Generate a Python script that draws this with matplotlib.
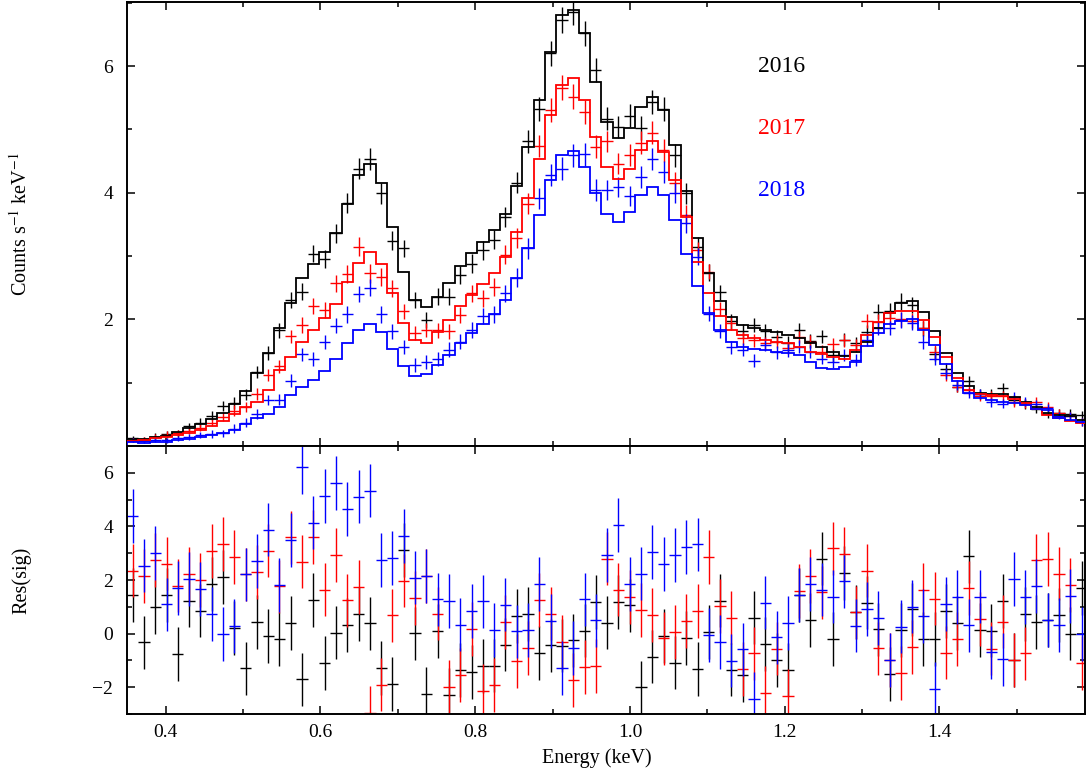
import numpy as np
import matplotlib
matplotlib.use("Agg")
import matplotlib.pyplot as plt
from matplotlib.ticker import MultipleLocator

plt.rcParams['font.family'] = ['Liberation Serif', 'DejaVu Serif']
plt.rcParams['mathtext.fontset'] = 'stix'

# Bin centres (keV); channel half width
energy = [0.3573, 0.3719, 0.3865, 0.4011, 0.4157, 0.4303, 0.4449, 0.4595, 0.4741, 0.4887,
          0.5033, 0.5179, 0.5325, 0.5471, 0.5617, 0.5763, 0.5909, 0.6055, 0.6201, 0.6347,
          0.6493, 0.6639, 0.6785, 0.6931, 0.7077, 0.7223, 0.7369, 0.7515, 0.7661, 0.7807,
          0.7953, 0.8099, 0.8245, 0.8391, 0.8537, 0.8683, 0.8829, 0.8975, 0.9121, 0.9267,
          0.9413, 0.9559, 0.9705, 0.9851, 0.9997, 1.0143, 1.0289, 1.0435, 1.0581, 1.0727,
          1.0873, 1.1019, 1.1165, 1.1311, 1.1457, 1.1603, 1.1749, 1.1895, 1.2041, 1.2187,
          1.2333, 1.2479, 1.2625, 1.2771, 1.2917, 1.3063, 1.3209, 1.3355, 1.3501, 1.3647,
          1.3793, 1.3939, 1.4085, 1.4231, 1.4377, 1.4523, 1.4669, 1.4815, 1.4961, 1.5107,
          1.5253, 1.5399, 1.5545, 1.5691, 1.5837]
half_width = 0.0073

model_2016 = [0.10, 0.11, 0.14, 0.16, 0.22, 0.29, 0.35, 0.42, 0.52, 0.67,
              0.87, 1.15, 1.47, 1.86, 2.26, 2.65, 2.88, 3.07, 3.36, 3.82,
              4.28, 4.46, 4.16, 3.46, 2.75, 2.31, 2.20, 2.36, 2.58, 2.84,
              3.05, 3.23, 3.41, 3.67, 4.11, 4.72, 5.47, 6.23, 6.81, 6.88,
              6.53, 5.75, 5.12, 4.87, 5.02, 5.35, 5.51, 5.31, 4.75, 4.02,
              3.29, 2.73, 2.29, 2.04, 1.91, 1.87, 1.84, 1.80, 1.75, 1.70,
              1.62, 1.57, 1.49, 1.42, 1.49, 1.65, 1.87, 2.10, 2.26, 2.29,
              2.12, 1.82, 1.47, 1.15, 0.95, 0.84, 0.82, 0.82, 0.78, 0.70,
              0.62, 0.52, 0.49, 0.47, 0.41]
model_2017 = [0.08, 0.09, 0.12, 0.15, 0.18, 0.21, 0.26, 0.31, 0.39, 0.50,
              0.61, 0.69, 0.89, 1.20, 1.40, 1.65, 1.83, 2.02, 2.24, 2.59,
              2.89, 3.07, 2.88, 2.42, 1.95, 1.67, 1.63, 1.80, 1.99, 2.21,
              2.38, 2.56, 2.73, 2.99, 3.38, 3.91, 4.54, 5.23, 5.70, 5.81,
              5.47, 4.88, 4.41, 4.21, 4.38, 4.67, 4.82, 4.65, 4.20, 3.62,
              2.91, 2.41, 2.05, 1.84, 1.75, 1.70, 1.68, 1.65, 1.62, 1.57,
              1.48, 1.46, 1.40, 1.38, 1.52, 1.75, 1.96, 2.10, 2.14, 2.14,
              1.99, 1.72, 1.40, 1.07, 0.88, 0.82, 0.81, 0.79, 0.74, 0.68,
              0.59, 0.49, 0.44, 0.40, 0.36]
model_2018 = [0.06, 0.05, 0.06, 0.07, 0.09, 0.11, 0.14, 0.17, 0.20, 0.25,
              0.35, 0.45, 0.51, 0.62, 0.80, 0.93, 1.05, 1.19, 1.37, 1.62,
              1.84, 1.93, 1.80, 1.53, 1.26, 1.11, 1.14, 1.28, 1.44, 1.62,
              1.78, 1.93, 2.09, 2.31, 2.66, 3.12, 3.65, 4.20, 4.59, 4.66,
              4.41, 3.99, 3.67, 3.54, 3.70, 3.96, 4.09, 3.96, 3.57, 3.04,
              2.52, 2.10, 1.84, 1.65, 1.57, 1.53, 1.52, 1.49, 1.47, 1.44,
              1.32, 1.24, 1.22, 1.25, 1.32, 1.58, 1.79, 1.92, 1.98, 2.00,
              1.84, 1.59, 1.29, 1.02, 0.83, 0.76, 0.73, 0.70, 0.68, 0.65,
              0.59, 0.57, 0.45, 0.41, 0.38]

data_2016 = [0.12, 0.10, 0.15, 0.19, 0.20, 0.31, 0.37, 0.48, 0.63, 0.68,
             0.81, 1.17, 1.47, 1.83, 2.31, 2.44, 3.04, 2.95, 3.36, 3.84,
             4.38, 4.53, 3.99, 3.24, 3.12, 2.31, 1.99, 2.36, 2.36, 2.70,
             2.88, 3.09, 3.26, 3.62, 4.16, 4.81, 5.33, 6.20, 6.73, 6.86,
             6.52, 5.94, 5.17, 5.04, 5.22, 5.03, 5.43, 5.32, 4.59, 3.99,
             3.15, 2.74, 2.43, 1.97, 1.82, 1.91, 1.82, 1.72, 1.62, 1.84,
             1.66, 1.73, 1.43, 1.68, 1.62, 1.80, 2.12, 2.14, 2.28, 2.23,
             1.86, 1.46, 1.21, 0.94, 1.03, 0.82, 0.82, 0.91, 0.73, 0.67,
             0.59, 0.51, 0.52, 0.51, 0.49]
data_2017 = [0.10, 0.11, 0.15, 0.18, 0.21, 0.24, 0.29, 0.37, 0.46, 0.56,
             0.62, 0.82, 1.12, 1.26, 1.73, 1.91, 2.21, 2.15, 2.57, 2.72,
             3.15, 2.73, 2.67, 2.49, 2.13, 1.79, 1.83, 1.83, 1.81, 2.07,
             2.41, 2.33, 2.51, 3.02, 3.28, 3.83, 4.74, 5.31, 5.66, 5.52,
             5.28, 4.73, 4.81, 4.46, 4.60, 4.79, 4.95, 4.67, 4.15, 3.65,
             3.09, 2.75, 2.16, 1.94, 1.70, 1.67, 1.62, 1.65, 1.55, 1.72,
             1.65, 1.49, 1.61, 1.67, 1.59, 1.98, 1.96, 2.02, 2.00, 1.98,
             1.87, 1.49, 1.12, 0.94, 0.89, 0.79, 0.79, 0.79, 0.70, 0.67,
             0.70, 0.62, 0.52, 0.48, 0.38]
data_2018 = [0.10, 0.08, 0.10, 0.09, 0.12, 0.14, 0.17, 0.19, 0.20, 0.27,
             0.37, 0.50, 0.72, 0.73, 1.03, 1.45, 1.38, 1.65, 1.90, 2.08,
             2.40, 2.50, 2.08, 1.81, 1.57, 1.28, 1.32, 1.37, 1.52, 1.65,
             1.83, 2.05, 2.08, 2.41, 2.66, 3.12, 3.91, 4.28, 4.38, 4.59,
             4.61, 4.04, 4.04, 4.09, 3.95, 4.25, 4.53, 4.33, 4.00, 3.52,
             2.99, 2.09, 1.82, 1.56, 1.52, 1.35, 1.60, 1.48, 1.51, 1.57,
             1.49, 1.38, 1.33, 1.44, 1.36, 1.68, 1.86, 1.86, 1.99, 1.95,
             1.65, 1.38, 1.15, 0.96, 0.84, 0.82, 0.69, 0.67, 0.78, 0.70,
             0.66, 0.60, 0.48, 0.47, 0.38]

err_2016 = [0.04, 0.04, 0.05, 0.05, 0.06, 0.06, 0.07, 0.07, 0.08, 0.09,
            0.09, 0.10, 0.11, 0.12, 0.13, 0.13, 0.14, 0.14, 0.15, 0.16,
            0.17, 0.17, 0.16, 0.15, 0.14, 0.13, 0.13, 0.13, 0.14, 0.14,
            0.15, 0.15, 0.15, 0.16, 0.17, 0.18, 0.19, 0.20, 0.21, 0.21,
            0.20, 0.19, 0.18, 0.18, 0.18, 0.19, 0.19, 0.19, 0.18, 0.16,
            0.15, 0.13, 0.12, 0.12, 0.11, 0.11, 0.11, 0.11, 0.11, 0.11,
            0.11, 0.10, 0.10, 0.10, 0.10, 0.11, 0.12, 0.12, 0.13, 0.13,
            0.12, 0.11, 0.10, 0.09, 0.08, 0.08, 0.08, 0.08, 0.08, 0.08,
            0.07, 0.07, 0.07, 0.07, 0.06]
err_2017 = [0.03, 0.04, 0.04, 0.05, 0.05, 0.05, 0.06, 0.06, 0.07, 0.08,
            0.08, 0.09, 0.10, 0.10, 0.11, 0.12, 0.12, 0.13, 0.13, 0.14,
            0.15, 0.15, 0.14, 0.13, 0.12, 0.11, 0.11, 0.12, 0.12, 0.13,
            0.13, 0.14, 0.14, 0.15, 0.16, 0.17, 0.18, 0.19, 0.20, 0.20,
            0.19, 0.18, 0.17, 0.17, 0.17, 0.18, 0.18, 0.18, 0.17, 0.15,
            0.14, 0.12, 0.11, 0.11, 0.10, 0.10, 0.10, 0.10, 0.10, 0.10,
            0.10, 0.10, 0.10, 0.10, 0.10, 0.11, 0.12, 0.12, 0.12, 0.12,
            0.12, 0.11, 0.10, 0.09, 0.08, 0.08, 0.08, 0.08, 0.08, 0.07,
            0.07, 0.07, 0.06, 0.06, 0.06]
err_2018 = [0.03, 0.03, 0.04, 0.04, 0.04, 0.05, 0.05, 0.06, 0.06, 0.07,
            0.07, 0.08, 0.08, 0.09, 0.10, 0.10, 0.11, 0.11, 0.12, 0.13,
            0.13, 0.13, 0.13, 0.12, 0.11, 0.11, 0.11, 0.11, 0.12, 0.12,
            0.13, 0.13, 0.13, 0.14, 0.15, 0.16, 0.17, 0.17, 0.18, 0.18,
            0.18, 0.17, 0.16, 0.16, 0.16, 0.17, 0.17, 0.17, 0.16, 0.15,
            0.13, 0.12, 0.11, 0.10, 0.10, 0.10, 0.10, 0.10, 0.10, 0.10,
            0.10, 0.09, 0.09, 0.09, 0.10, 0.10, 0.11, 0.11, 0.12, 0.12,
            0.11, 0.10, 0.09, 0.08, 0.08, 0.08, 0.07, 0.07, 0.07, 0.07,
            0.07, 0.07, 0.06, 0.06, 0.06]

res_2016 = [1.45, -0.33, 1.00, 1.43, -0.75, 1.23, 0.86, 1.86, 2.11, 0.20,
            -1.30, 0.44, -0.08, -0.21, 0.39, -1.71, 1.26, -1.09, 0.04, 0.33,
            0.74, 0.38, -1.28, -1.88, 3.11, 0.01, -2.25, 0.10, -2.30, -1.35,
            -1.43, -1.21, -1.19, -0.41, 0.66, 0.73, -0.73, -0.44, -0.45, -0.25,
            0.11, 1.18, 0.41, 1.18, 1.05, -2.01, -0.86, -0.08, -1.08, -0.16,
            -1.31, 0.06, 1.23, -1.34, -1.56, 0.60, -0.39, -0.99, -1.34, 1.45,
            0.50, 2.80, -0.20, 2.26, 0.80, 1.16, 0.16, -1.50, 0.14, 0.90,
            -0.19, -0.21, 0.85, 0.40, 2.88, 0.14, 0.11, 1.21, -0.99, 0.74,
            0.43, 0.51, 0.70, 0.00, 1.70]
res_2017 = [2.35, 2.16, 2.75, 2.61, 1.79, 2.23, 2.00, 3.08, 3.35, 2.85,
            2.21, 2.30, 3.10, 1.76, 3.59, 2.69, 3.60, 1.64, 2.94, 1.24,
            1.73, -2.96, -1.90, 0.68, 1.98, 1.34, 2.16, 0.75, -1.99, -1.55,
            0.18, -2.13, -1.91, 0.44, -1.03, -0.53, 1.26, 0.75, -0.31, -1.74,
            -1.24, -1.20, 2.80, 1.64, 1.36, 0.89, 0.69, -0.18, 0.05, 0.48,
            0.84, 2.86, 1.04, 0.60, -1.31, -0.74, -2.20, -0.56, -2.33, 1.58,
            2.16, 1.54, 3.18, 2.96, 0.79, 2.35, -0.55, -0.99, -1.46, -0.51,
            1.63, 1.31, -0.71, -0.20, 1.71, 0.55, -0.56, 0.45, -0.99, -0.74,
            2.73, 2.79, 2.24, 1.81, -1.09]
res_2018 = [4.39, 2.54, 3.00, 1.09, 1.71, 2.04, 1.66, 0.73, -0.01, 0.29,
            2.21, 2.71, 3.88, 1.81, 3.49, 6.21, 4.14, 5.14, 5.61, 4.64,
            5.11, 5.34, 2.74, 2.83, 3.65, 2.09, 2.16, 1.28, 1.21, 0.34,
            0.84, 1.20, 0.14, 1.08, 0.08, 0.14, 1.86, 0.48, -1.29, -0.53,
            1.28, 0.49, 2.93, 4.06, 1.86, 2.24, 3.05, 2.59, 2.94, 3.24,
            3.33, -0.06, -0.31, -1.01, -0.59, -2.43, 1.16, -0.14, 0.40, 1.45,
            1.85, 1.64, 1.38, 1.95, 0.30, 0.91, 0.58, -0.99, 0.26, 1.01,
            0.65, -2.05, 1.10, 1.36, 0.31, 1.38, -0.70, -0.96, 2.04, 1.36,
            1.78, 0.51, 0.33, 1.40, -0.01]

years = ['2016', '2017', '2018']
colors = ['black', '#ff0000', '#0000ff']

e = np.asarray(energy)
edges = np.append(e - half_width, e[-1] + half_width)

fig = plt.figure(figsize=(10.89, 7.69), dpi=100)
ax1 = fig.add_axes([0.1166, 0.420, 0.8797, 0.578])
ax2 = fig.add_axes([0.1166, 0.0715, 0.8797, 0.3485], sharex=ax1)

models = [model_2016, model_2017, model_2018]
datas = [data_2016, data_2017, data_2018]
errs = [err_2016, err_2017, err_2018]
ress = [res_2016, res_2017, res_2018]

for m, d, er, r, c in zip(models, datas, errs, ress, colors):
    ax1.errorbar(e, d, xerr=half_width, yerr=er, fmt='none', ecolor=c,
                 elinewidth=1.0, capsize=0, zorder=2)
    ax1.stairs(m, edges, color=c, linewidth=1.3, zorder=3)
    ax2.errorbar(e, r, xerr=half_width, yerr=1.0, fmt='none', ecolor=c,
                 elinewidth=1.0, capsize=0, zorder=2)

ypos = [6.0, 5.02, 4.03]
for yr, c, yp in zip(years, colors, ypos):
    ax1.text(1.165, yp, yr, color=c, fontsize=17, ha='left', va='center')

ax1.set_xlim(0.35, 1.588)
ax1.set_ylim(0.0, 7.02)
ax2.set_ylim(-3.0, 7.0)

for ax in (ax1, ax2):
    ax.xaxis.set_major_locator(MultipleLocator(0.2))
    ax.xaxis.set_minor_locator(MultipleLocator(0.1))
    ax.yaxis.set_major_locator(MultipleLocator(2))
    ax.yaxis.set_minor_locator(MultipleLocator(1))
    ax.tick_params(which='both', direction='in', top=True, right=True,
                   width=1.1, labelsize=14, colors='black')
    ax.tick_params(which='major', length=6)
    ax.tick_params(which='minor', length=3.6)
    ax.tick_params(axis='y', pad=10)
    ax.tick_params(axis='x', pad=7)
    for s in ax.spines.values():
        s.set_linewidth(1.4)

ax1.set_yticks([2, 4, 6])
ax1.tick_params(labelbottom=False)

ax1.set_ylabel('Counts s$^{-1}$ keV$^{-1}$', fontsize=14.5)
ax2.set_ylabel('Res(sig)', fontsize=14.5)
ax2.set_xlabel('Energy (keV)', fontsize=14.5)
ax1.yaxis.set_label_coords(-0.1, 0.5)
ax2.yaxis.set_label_coords(-0.1, 0.5)
ax2.xaxis.set_label_coords(0.49, -0.128)

fig.savefig('out.png', dpi=100)
